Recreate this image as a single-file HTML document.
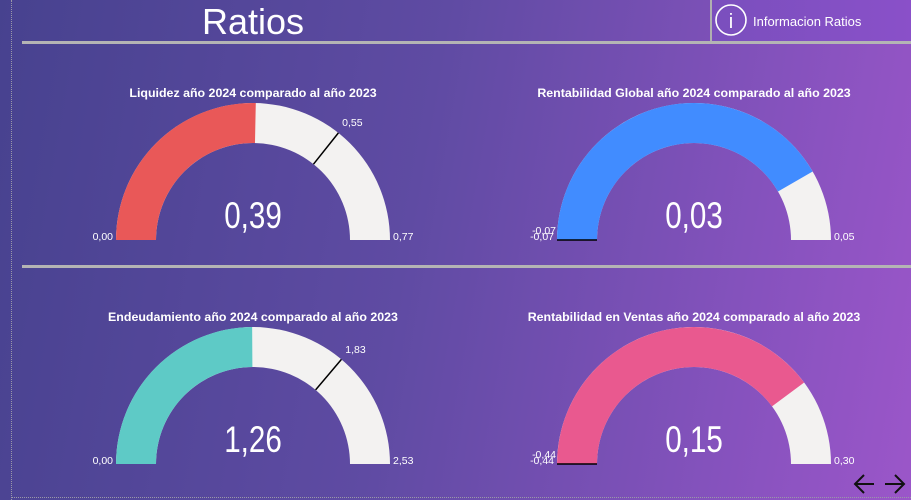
<!DOCTYPE html>
<html><head><meta charset="utf-8"><style>
html,body{margin:0;padding:0;width:911px;height:500px;overflow:hidden;}
body{background:linear-gradient(100deg,#47428f 0%,#5f4ba3 45%,#8552bd 80%,#9b56c9 100%);font-family:"Liberation Sans",sans-serif;position:relative;}
#hdr-box{position:absolute;left:710px;top:0;width:201px;height:41px;border-left:2px solid #b0b0b0;background:linear-gradient(90deg,#7a4fbd,#8a50c9);}
</style></head><body>
<div style="position:absolute;left:11px;top:0;height:500px;border-left:1px dotted #9a98a8;"></div>
<div style="position:absolute;left:11px;top:497px;width:900px;border-top:1px dotted #9a98a8;"></div>
<div id="hdr-box"></div>
<svg width="911" height="500" style="position:absolute;left:0;top:0" id="chart">
<text x="253" y="34" fill="#fff" font-size="36" text-anchor="middle" font-family="Liberation Sans, sans-serif">Ratios</text>
<circle cx="731" cy="20" r="15" fill="none" stroke="#fff" stroke-width="1.6"/>
<text x="731" y="28" fill="#fff" font-size="20" text-anchor="middle">i</text>
<text x="753" y="26" fill="#fff" font-size="13">Informacion Ratios</text>
<rect x="22" y="41" width="889" height="3" fill="#b4b4b4"/>
<rect x="22" y="265" width="889" height="3" fill="#b4b4b4"/>
<path d="M874 484 H855 M864 475 L855 484 L864 493" fill="none" stroke="#111" stroke-width="2"/>
<path d="M885 484 H904 M895 475 L904 484 L895 493" fill="none" stroke="#111" stroke-width="2"/>
</svg>
<script>
const titles=["Liquidez año 2024 comparado al año 2023","Rentabilidad Global año 2024 comparado al año 2023","Endeudamiento año 2024 comparado al año 2023","Rentabilidad en Ventas año 2024 comparado al año 2023"];
const minVals=[0,-0.07,0,-0.44];
const maxVals=[0.77,0.05,2.53,0.30];
const values=[0.39,0.03,1.26,0.15];
const targets=[0.55,-0.07,1.83,-0.44];
const colors=["#e95858","#418cff","#5ecac6","#e9598f"];
const centers=[[253,240],[694,240],[253,464],[694,464]];
const R=137, r=97;
const svg=document.getElementById('chart');
const NS="http://www.w3.org/2000/svg";
function fmt(v){return v.toFixed(2).replace('.',',');}
function ang(i,v){const f=(v-minVals[i])/(maxVals[i]-minVals[i]);return Math.PI*(1-Math.max(0,Math.min(1,f)));}
function pt(c,rad,a){return [c[0]+rad*Math.cos(a),c[1]-rad*Math.sin(a)];}
function arc(c,a0,a1){const p0=pt(c,R,a0),p1=pt(c,R,a1),q1=pt(c,r,a1),q0=pt(c,r,a0);
return `M${p0} A${R},${R} 0 0 1 ${p1} L${q1} A${r},${r} 0 0 0 ${q0} Z`;}
function mk(tag,attrs,name,txt){const e=document.createElementNS(NS,tag);for(const k in attrs)e.setAttribute(k,attrs[k]);


if(txt!==undefined)e.textContent=txt;svg.appendChild(e);return e;}
for(let i=0;i<4;i++){
const c=centers[i];
mk('text',{x:c[0],y:c[1]-143,fill:'#fff','font-size':12.4,'font-weight':'bold','text-anchor':'middle'},'gauge-title',titles[i]);
mk('path',{d:arc(c,Math.PI,0),fill:'#f3f2f1'},'gauge-track');
const va=ang(i,values[i]);
mk('path',{d:arc(c,Math.PI,va),fill:colors[i]},'gauge-fill');
const ta=ang(i,targets[i]);const t0=pt(c,r,ta),t1=pt(c,R,ta);
mk('line',{x1:t0[0],y1:t0[1],x2:t1[0],y2:t1[1],stroke:'#000','stroke-width':1.5},'gauge-target-line');
if(targets[i]>minVals[i]){const tl=pt(c,R+6,ta);mk('text',{x:tl[0],y:tl[1]-2,fill:'#fff','font-size':10.5},'gauge-target-label',fmt(targets[i]));}
else{mk('text',{x:c[0]-R-1,y:c[1]-6,fill:'#fff','font-size':10.5,'text-anchor':'end'},'gauge-target-label',fmt(targets[i]));}
mk('text',{x:c[0]-R-3,y:c[1],fill:'#fff','font-size':10.5,'text-anchor':'end'},'gauge-min-label',fmt(minVals[i]));
mk('text',{x:c[0]+R+3,y:c[1],fill:'#fff','font-size':10.5},'gauge-max-label',fmt(maxVals[i]));
mk('text',{x:0,y:0,fill:'#fff','font-size':37,'text-anchor':'middle',transform:`translate(${c[0]},${c[1]-12}) scale(0.8,1)`},'gauge-value',fmt(values[i]));
}
</script>
</body></html>
